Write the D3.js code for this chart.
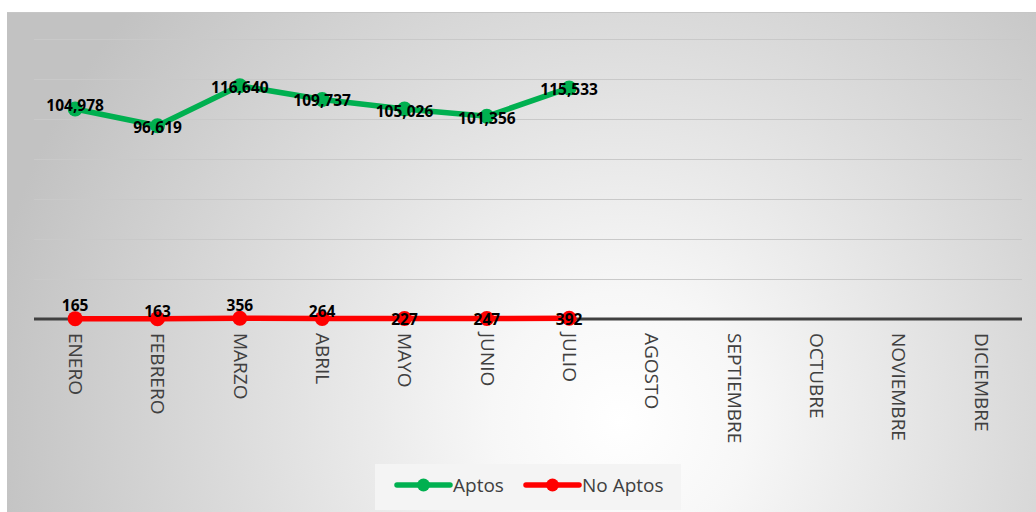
<!DOCTYPE html>
<html><head><meta charset="utf-8">
<script src="https://cdn.jsdelivr.net/npm/d3@7"></script>
<style>html,body{margin:0;padding:0;background:#fff;}svg{display:block;}</style>
</head><body>
<svg id="chart" width="1036" height="512"></svg>
<script>
const months = ["ENERO","FEBRERO","MARZO","ABRIL","MAYO","JUNIO","JULIO","AGOSTO","SEPTIEMBRE","OCTUBRE","NOVIEMBRE","DICIEMBRE"];
const aptos = [104978, 96619, 116640, 109737, 105026, 101356, 115533];
const noAptos = [165, 163, 356, 264, 227, 247, 392];
const seriesNames = ["Aptos", "No Aptos"];
const yTicks = [0, 20000, 40000, 60000, 80000, 100000, 120000, 140000];

// label offsets (style only)
const aptosLabelDy = [-4, 2, 2, 1, 2, 2, 1];
const noAptosLabelDy = [-13, -7, -13, -7, 1, 1, 1];

const svg = d3.select("#chart");
const W = 1036, H = 512;
const green = "#00b050", red = "#ff0000";

const defs = svg.append("defs");
const grad = defs.append("radialGradient").attr("id","bg")
  .attr("gradientUnits","userSpaceOnUse").attr("cx",620).attr("cy",420).attr("r",640);
grad.append("stop").attr("offset","0%").attr("stop-color","#ffffff");
grad.append("stop").attr("offset","20%").attr("stop-color","#f7f7f7");
grad.append("stop").attr("offset","60%").attr("stop-color","#dcdcdc");
grad.append("stop").attr("offset","100%").attr("stop-color","#c2c2c2");

svg.append("rect").attr("x",7).attr("y",12).attr("width",W-7).attr("height",H-12).attr("fill","url(#bg)");
svg.append("line").attr("x1",7).attr("x2",W).attr("y1",12.5).attr("y2",12.5).attr("stroke","#c6c6c6").attr("stroke-width",1);

const x = d3.scalePoint().domain(months).range([34,1022]).padding(0.5);
const y = d3.scaleLinear().domain([0,140000]).range([319,39]);

// gridlines
svg.append("g").selectAll("line").data(yTicks.filter(d=>d>0)).join("line")
  .attr("x1",34).attr("x2",1022).attr("y1",d=>Math.round(y(d))+0.5).attr("y2",d=>Math.round(y(d))+0.5)
  .attr("stroke","#c9c9c9").attr("stroke-width",1);

// x axis
const xAxis = svg.append("g").attr("transform",`translate(0,${y(0)})`)
  .call(d3.axisBottom(x).tickSize(0).tickPadding(0));
xAxis.select(".domain").attr("d","M34,0H1022").attr("stroke","#404040").attr("stroke-width",3);
xAxis.selectAll(".tick text")
  .attr("transform","rotate(90)")
  .attr("x",14).attr("y",0).attr("dy","0.35em")
  .attr("text-anchor","start")
  .attr("font-family","'Open Sans', sans-serif").attr("font-size",19)
  .attr("fill","#404040");

const line = d3.line().x((d,i)=>x(months[i])).y(d=>y(d));

function drawSeries(data, color, dys){
  const g = svg.append("g");
  g.append("path").datum(data).attr("d",line).attr("fill","none")
    .attr("stroke",color).attr("stroke-width",5.5).attr("stroke-linejoin","round");
  g.selectAll("circle").data(data).join("circle")
    .attr("cx",(d,i)=>x(months[i])).attr("cy",d=>y(d)).attr("r",7.5).attr("fill",color);
  g.selectAll("text").data(data).join("text")
    .attr("x",(d,i)=>x(months[i])).attr("y",(d,i)=>y(d)+dys[i])
    .attr("dy","0.36em").attr("text-anchor","middle")
    .attr("font-family","'Open Sans', sans-serif").attr("font-weight","bold").attr("font-size",15.5)
    .attr("fill","#000").text(d=>d3.format(",")(d));
}
drawSeries(aptos, green, aptosLabelDy);
drawSeries(noAptos, red, noAptosLabelDy);

// legend
const lg = svg.append("g");
lg.append("rect").attr("x",375).attr("y",464).attr("width",306).attr("height",46).attr("fill","#f4f4f4");
const items = [{name:seriesNames[0], color:green, x:397},{name:seriesNames[1], color:red, x:526}];
items.forEach(it=>{
  lg.append("line").attr("x1",it.x).attr("x2",it.x+53).attr("y1",485).attr("y2",485)
    .attr("stroke",it.color).attr("stroke-width",5.5).attr("stroke-linecap","round");
  lg.append("circle").attr("cx",it.x+26.5).attr("cy",485).attr("r",6.5).attr("fill",it.color);
  lg.append("text").attr("x",it.x+56).attr("y",485).attr("dy","0.35em")
    .attr("font-family","'Open Sans', sans-serif").attr("font-size",19).attr("fill","#404040").text(it.name);
});
</script>
</body></html>
